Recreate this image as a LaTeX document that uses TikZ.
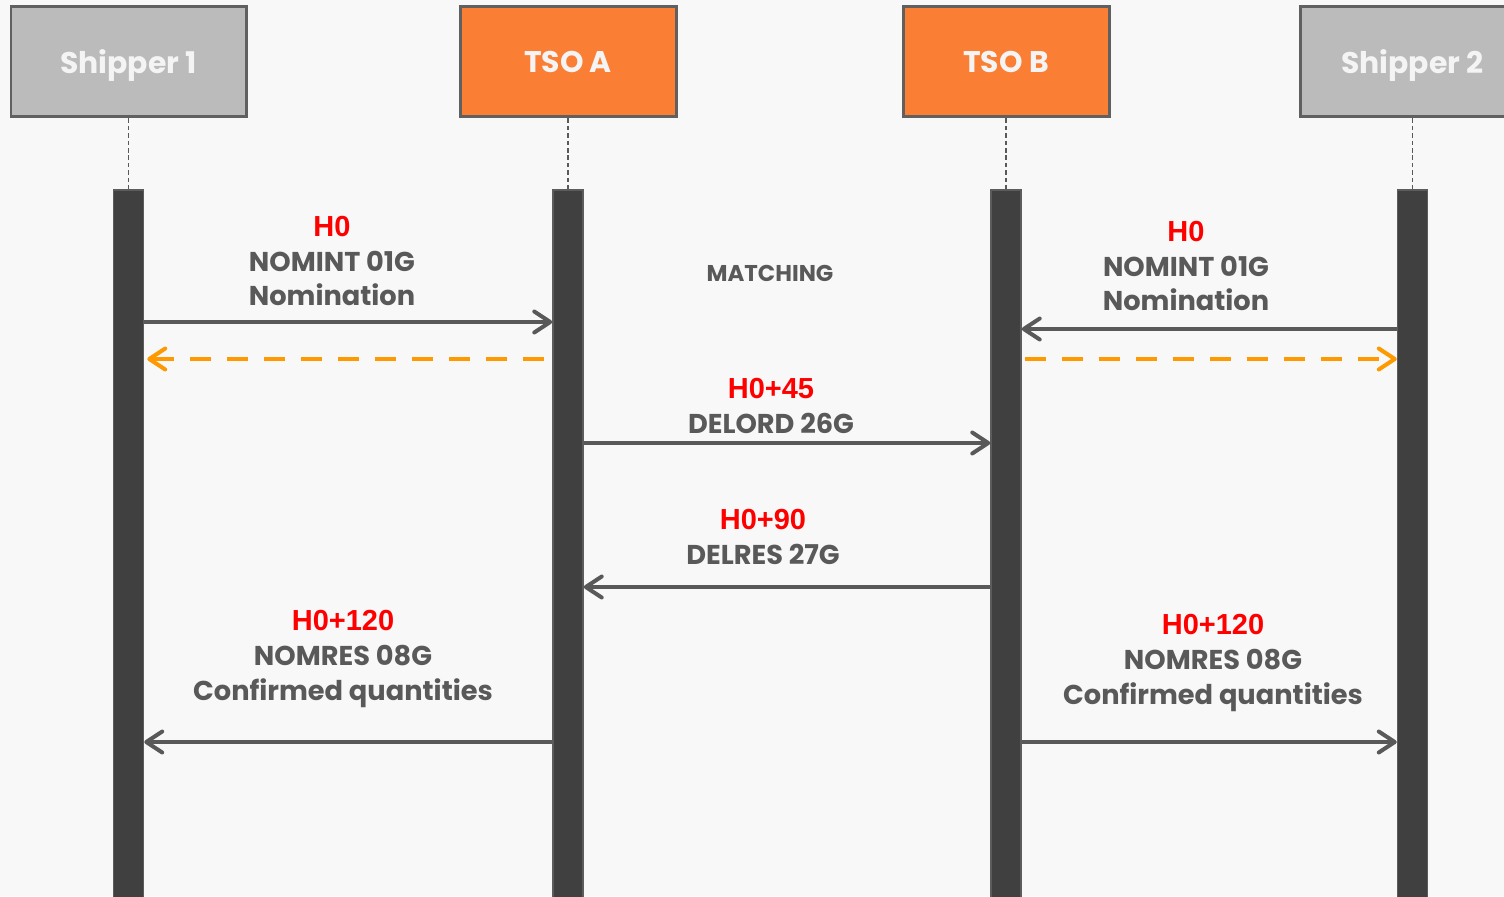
\documentclass[tikz,border=0pt]{standalone}
\usepackage{fontspec}
\newfontfamily\gothic{Poppins}
\newfontfamily\arialfont{Liberation Sans}
\usetikzlibrary{arrows.meta,positioning}
\definecolor{paper}{HTML}{F8F8F8}
\definecolor{ink}{HTML}{595959}
\definecolor{frame}{HTML}{606060}
\definecolor{shipfill}{HTML}{BBBBBB}
\definecolor{tsofill}{HTML}{FA7F34}
\definecolor{headtxt}{HTML}{F4F4F4}
\definecolor{bar}{HTML}{404040}
\definecolor{barrim}{HTML}{5C5C5C}
\definecolor{ack}{HTML}{FF9900}
\definecolor{hred}{HTML}{FF0000}
\newcommand{\PageW}{1504}
\newcommand{\PageH}{896}
\newcommand{\HeadY}{61.5}
\newcommand{\LifeTop}{189}
\newcommand{\Hour}[1]{{\arialfont\bfseries\fontsize{16.5}{19.9}\selectfont\color{hred}#1}}

\begin{document}
\begin{tikzpicture}[
    x=0.02cm, y=-0.02cm,
    font=\gothic\bfseries,
    header/.style={draw=frame, line width=0.06cm, minimum height=2.22cm, inner sep=0pt, text depth=0pt, text=headtxt, font=\gothic\bfseries\fontsize{17}{20}\selectfont},
    shipper/.style={header, fill=shipfill},
    tso/.style={header, fill=tsofill},
    lifeline/.style={draw=barrim, fill=bar, line width=0.03cm, minimum width=0.6cm, minimum height=14.4cm, inner sep=0pt, anchor=north},
    tether/.style={draw=ink, line width=0.6pt, dash pattern=on 2.6pt off 1.6pt},
    msg/.style={draw=ink, line width=0.08cm, -{Straight Barb[length=0.32cm, width=0.42cm, round]}},
    reply/.style={draw=ack, line width=0.08cm, dash pattern=on 0.42cm off 0.32cm, -{Straight Barb[length=0.32cm, width=0.42cm, round]}},
    label/.style={align=center, text=ink, inner sep=0pt, font=\gothic\bfseries\fontsize{15.5}{19.9}\selectfont},
  ]

% --- Canvas ------------------------------------------------------------------
\path[use as bounding box, fill=paper] (0,0) rectangle (\PageW,\PageH);

% --- Participants: a header box, a dashed tether, then the lifeline ---------
\foreach \name/\x/\w/\kind/\title in {ship1/128.5/235/shipper/Shipper 1, tsoA/568/216/tso/TSO A, tsoB/1006/206/tso/TSO B, ship2/1412.5/225/shipper/Shipper 2} {
  \node[\kind, minimum width=\w*0.02cm] (\name) at (\x, \HeadY) {\title};
  \node[lifeline] (\name life) at (\x, \LifeTop) {};
  \draw[tether] (\name.south) -- (\name life.north);
}

% --- Messages ----------------------------------------------------------------
\foreach \from/\to/\y in {ship1life.east/tsoAlife.west/322, ship2life.west/tsoBlife.east/329, tsoAlife.east/tsoBlife.west/443, tsoBlife.west/tsoAlife.east/587, tsoAlife.west/ship1life.east/742, tsoBlife.east/ship2life.west/742}
  \draw[msg] (\from |- 0,\y) -- (\to |- 0,\y);

% --- Acknowledgements, dashed ------------------------------------------------
\draw[reply, shorten <=0.16cm, shorten >=0.06cm] (tsoAlife.west |- 0,359) -- (ship1life.east |- 0,359);
\draw[reply, shorten <=0.06cm] (tsoBlife.east |- 0,359) -- (ship2life.west |- 0,359);

% --- Labels ------------------------------------------------------------------
\node[label] (nomLeft) at (332, 261) {\Hour{H0}\\NOMINT 01G\\Nomination};
\node[label] (nomRight) at (1186, 266) {\Hour{H0}\\NOMINT 01G\\Nomination};
\node[label, font=\gothic\bfseries\fontsize{13}{15}\selectfont] (matching) at (770, 273) {MATCHING};
\node[label] (delord) at (771, 405.5) {\Hour{H0+45}\\DELORD 26G};
\node[label] (delres) at (763, 536.5) {\Hour{H0+90}\\DELRES 27G};
\node[label] (nomresLeft) at (343, 659) {\Hour{H0+120}\\NOMRES 08G\\Confirmed quantities};
\node[label] (nomresRight) at (1213, 663) {\Hour{H0+120}\\NOMRES 08G\\Confirmed quantities};

\end{tikzpicture}
\end{document}
